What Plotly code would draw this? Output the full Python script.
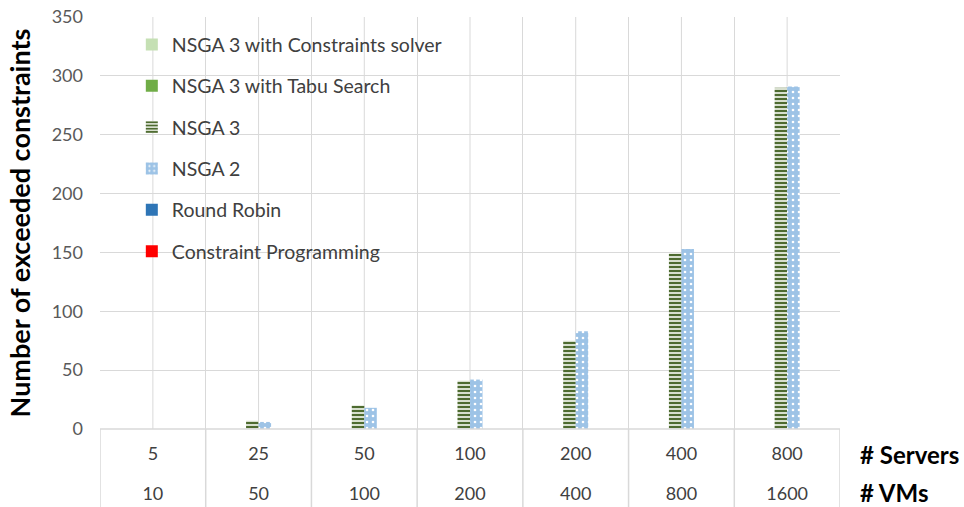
import plotly.graph_objects as go

# Problem sizes (two-level category axis)
servers = ["5", "25", "50", "100", "200", "400", "800"]
vms = ["10", "50", "100", "200", "400", "800", "1600"]

# Number of exceeded constraints per algorithm
series_names = [
    "NSGA 3 with Constraints solver",
    "NSGA 3 with Tabu Search",
    "NSGA 3",
    "NSGA 2",
    "Round Robin",
    "Constraint Programming",
]
cs_vals = [0, 0, 0, 0, 0, 0, 0]
tabu_vals = [0, 0, 0, 0, 0, 0, 0]
nsga3_vals = [0, 7, 20, 41, 75, 149, 290]
nsga2_vals = [0, 6, 18, 42, 83, 153, 291]
rr_vals = [0, 0, 0, 0, 0, 0, 0]
cp_vals = [0, 0, 0, 0, 0, 0, 0]

FONT = "Lato"
GRID = "#D9D9D9"

styles = [
    dict(color="#C5E0B4"),
    dict(color="#70AD47"),
    dict(color="#E6ECDF", pattern=dict(shape="-", fgcolor="#4E6B30", bgcolor="#E6ECDF",
                                       size=4, solidity=0.55, fillmode="replace")),
    dict(color="#9DC3E6", pattern=dict(shape=".", fgcolor="#FFFFFF", bgcolor="#9DC3E6",
                                       size=6, solidity=0.15, fillmode="replace")),
    dict(color="#2E75B6"),
    dict(color="#FF0000"),
]
values = [cs_vals, tabu_vals, nsga3_vals, nsga2_vals, rr_vals, cp_vals]

fig = go.Figure()
for i, (name, vals, st) in enumerate(zip(series_names, values, styles)):
    fig.add_trace(go.Bar(
        x=servers, y=vals, name=name, legendgroup=f"g{i}",
        marker=dict(line=dict(width=0), **st),
    ))

n = len(servers)
# invisible trace so the second-level (VM) axis is drawn
fig.add_trace(go.Scatter(x=list(range(n)), y=[None] * n, xaxis="x2", yaxis="y",
                         showlegend=False, hoverinfo="skip", mode="markers"))

shapes = []
# half-category vertical gridlines inside the plot area
for k in range(n):
    shapes.append(dict(type="line", xref="x", yref="paper", x0=k, x1=k, y0=0, y1=1,
                       line=dict(color=GRID, width=1), layer="below"))
# category separators in the label area below the axis
for k in range(n + 1):
    shapes.append(dict(type="line", xref="x", yref="paper", x0=k - 0.5, x1=k - 0.5,
                       y0=0, y1=-0.2, line=dict(color=GRID, width=1.5)))
shapes.append(dict(type="line", xref="paper", yref="paper", x0=0, x1=1, y0=0, y1=0,
                   line=dict(color=GRID, width=1.5)))

fig.update_layout(
    width=964, height=507,
    margin=dict(l=100, r=124, t=17, b=78),
    paper_bgcolor="white", plot_bgcolor="white",
    font=dict(family=FONT, color="#404040", size=18),
    barmode="group", bargap=0.29, bargroupgap=0,
    showlegend=True,
    legend=dict(
        x=0.043, xanchor="left", y=0.98, yanchor="top",
        bgcolor="rgba(0,0,0,0)", font=dict(family=FONT, size=19.5, color="#404040"),
        tracegroupgap=13, traceorder="grouped",
    ),
    xaxis=dict(
        type="category", tickson="boundaries", showgrid=True, gridcolor=GRID, gridwidth=1,
        ticks="", tickvals=servers, ticktext=servers,
        tickfont=dict(family=FONT, size=18, color="#404040"),
        ticklabelstandoff=12, showline=False, zeroline=False,
        range=[-0.5, n - 0.5], automargin=False,
    ),
    xaxis2=dict(
        overlaying="x", side="bottom", anchor="y", type="linear",
        range=[-0.5, n - 0.5], tickmode="array", tickvals=list(range(n)), ticktext=vms,
        tickfont=dict(family=FONT, size=18, color="#404040"),
        ticklabelstandoff=52, showgrid=False, zeroline=False, showline=False, ticks="",
        automargin=False,
    ),
    yaxis=dict(
        range=[0, 350], dtick=50, showgrid=True, gridcolor=GRID, gridwidth=1,
        zeroline=False, showline=False, ticks="",
        tickfont=dict(family=FONT, size=18, color="#595959"),
        ticklabelstandoff=16, automargin=False,
        title=dict(text="<b>Number of exceeded constraints</b>",
                   font=dict(family=FONT, size=27, color="#000000"), standoff=13),
    ),
    shapes=shapes,
    annotations=[
        dict(text="<b># Servers</b>", xref="paper", yref="paper", x=1.0243, y=-0.063,
             xanchor="left", yanchor="middle", showarrow=False,
             font=dict(family=FONT, size=24, color="#000000")),
        dict(text="<b># VMs</b>", xref="paper", yref="paper", x=1.0243, y=-0.153,
             xanchor="left", yanchor="middle", showarrow=False,
             font=dict(family=FONT, size=24, color="#000000")),
    ],
)

fig.write_html("out.html")
